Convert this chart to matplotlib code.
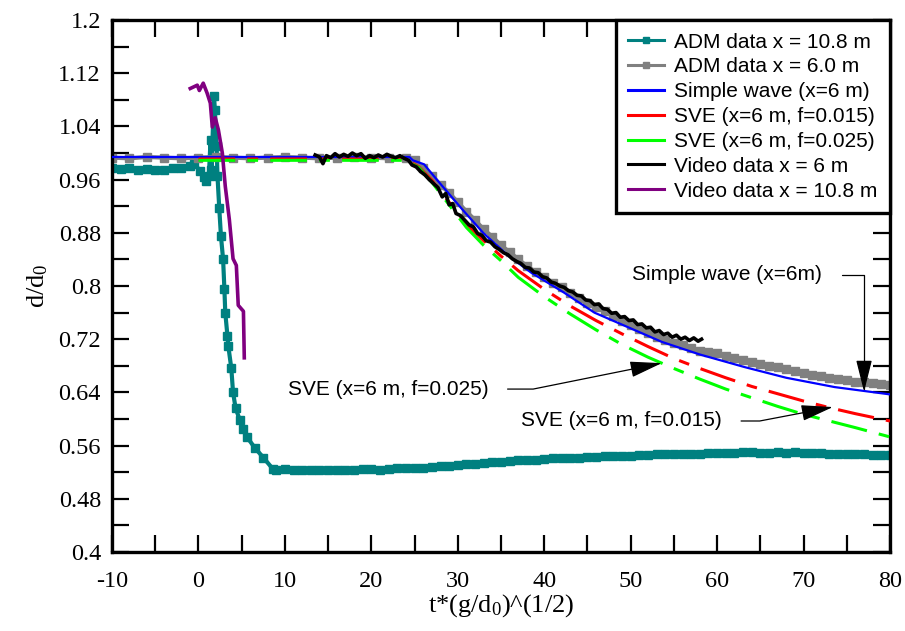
import numpy as np
import matplotlib
matplotlib.use('Agg')
import matplotlib.pyplot as plt
from matplotlib.ticker import MultipleLocator

plt.rcParams['mathtext.fontset'] = 'custom'
plt.rcParams['mathtext.rm'] = 'Liberation Serif'
plt.rcParams['mathtext.it'] = 'Liberation Serif'
plt.rcParams['axes.unicode_minus'] = False

# ---- ADM data x = 10.8 m ----
adm108_x = [-10, -9, -8, -7, -6, -5, -4, -3, -2, -1, -0.5,
            0.2, 0.6, 0.9, 1.2, 1.4, 1.5, 1.8, 1.9, 2.1, 2.2, 2.4, 2.6, 2.85,
            3.0, 3.1, 3.35, 3.45, 3.8, 4.0, 4.3, 4.8, 5.2, 5.6, 6.5, 7.5, 8.6,
            9, 10, 11, 12, 13, 14, 15, 16, 17, 18, 19, 20, 21, 22, 23, 24, 25,
            26, 27, 28, 29, 30, 31, 32, 33, 34, 35, 36, 37, 38, 39, 40, 41, 42,
            43, 44, 45, 46, 47, 48, 49, 50, 51, 52, 53, 54, 55, 56, 57, 58, 59,
            60, 61, 62, 63, 64, 65, 66, 67, 68, 69, 70, 71, 72, 73, 74, 75, 76,
            77, 78, 79, 80]
adm108_y = [0.977, 0.976, 0.978, 0.975, 0.976, 0.974, 0.975, 0.977, 0.978, 0.981, 0.984,
            0.973, 0.964, 0.958, 0.965, 1.020, 0.975, 1.085, 1.065, 1.010, 0.965, 0.918,
            0.875, 0.840, 0.795, 0.760, 0.725, 0.710, 0.676, 0.640, 0.616, 0.598, 0.585,
            0.573, 0.557, 0.542, 0.525,
            0.524, 0.525, 0.524, 0.524, 0.523, 0.523, 0.524, 0.523, 0.524, 0.524, 0.525,
            0.525, 0.524, 0.525, 0.526, 0.526, 0.526, 0.527, 0.528, 0.529, 0.530, 0.531,
            0.532, 0.533, 0.534, 0.535, 0.536, 0.537, 0.538, 0.539, 0.539, 0.540, 0.541,
            0.541, 0.542, 0.542, 0.543, 0.543, 0.544, 0.544, 0.545, 0.545, 0.546, 0.546,
            0.547, 0.547, 0.547, 0.548, 0.548, 0.548, 0.549, 0.549, 0.549, 0.549, 0.550,
            0.550, 0.549, 0.549, 0.550, 0.549, 0.550, 0.549, 0.549, 0.549, 0.548, 0.548,
            0.548, 0.547, 0.547, 0.546, 0.546, 0.546]

# ---- ADM data x = 6.0 m ----
adm60_x = [-10, -8, -6, -4, -2, 0, 2, 4, 6, 8, 10, 12, 14, 16, 18, 20, 22, 24,
           25, 26, 27, 28, 29, 30, 31, 32, 33, 34, 35, 36, 37, 38, 39, 40, 41, 42,
           43, 44, 45, 46, 47, 48, 49, 50, 51, 52, 53, 54, 55, 56, 57, 58, 59, 60,
           61, 62, 63, 64, 65, 66, 67, 68, 69, 70, 71, 72, 73, 74, 75, 76, 77, 78,
           79, 80]
adm60_y = [0.993, 0.992, 0.994, 0.993, 0.992, 0.993, 0.994, 0.993, 0.992, 0.993, 0.994, 0.993,
           0.992, 0.993, 0.994, 0.993, 0.992, 0.992,
           0.990, 0.978, 0.966, 0.952, 0.940, 0.926, 0.912, 0.899, 0.885, 0.874, 0.861, 0.851,
           0.840, 0.830, 0.821, 0.813, 0.805, 0.798, 0.790, 0.782, 0.775, 0.769, 0.762, 0.755,
           0.748, 0.742, 0.736, 0.730, 0.724, 0.719, 0.715, 0.711, 0.707, 0.703, 0.701, 0.699,
           0.695, 0.691, 0.688, 0.685, 0.683, 0.680, 0.678, 0.675, 0.672, 0.669, 0.666, 0.664,
           0.662, 0.660, 0.658, 0.656, 0.655, 0.654, 0.652, 0.651]

# ---- Simple wave (x=6 m) ----
simple_x = [-10, 24.4, 24.8, 26.1, 27.7, 30.6, 33.0, 35.8, 38.5, 42.3, 45.8, 49.7,
            53.6, 58.0, 63.2, 68.0, 73.6, 80]
simple_y = [0.994, 0.994, 0.989, 0.983, 0.958, 0.914, 0.879, 0.846, 0.820, 0.790, 0.760,
            0.738, 0.716, 0.697, 0.678, 0.662, 0.648, 0.637]

# ---- SVE f=0.015 / f=0.025 ----
sve_x = [0, 24, 25.5, 27, 29, 31, 33, 35, 37, 40, 43, 46, 49, 52, 55, 58, 61, 64,
         67, 70, 73, 76, 80]
sve015_y = [0.991, 0.991, 0.979, 0.959, 0.926, 0.893, 0.868, 0.845, 0.823, 0.795, 0.770,
            0.748, 0.728, 0.709, 0.691, 0.676, 0.662, 0.649, 0.638, 0.627, 0.617, 0.608,
            0.597]
sve025_y = [0.989, 0.989, 0.978, 0.956, 0.922, 0.888, 0.861, 0.838, 0.813, 0.784, 0.758,
            0.734, 0.712, 0.693, 0.676, 0.660, 0.645, 0.632, 0.619, 0.607, 0.597, 0.587,
            0.573]

# ---- Video data x = 6 m ----
vid6_x = [13.5, 14.0, 14.4, 14.8, 15.3, 15.8, 16.3, 16.8, 17.3, 17.8, 18.3, 18.8, 19.3,
          19.8, 20.3, 20.8, 21.3, 21.8, 22.3, 22.8, 23.3, 23.8, 24.3, 24.7, 25.2, 25.7,
          26.2, 26.7, 27.2, 27.7, 28.2, 28.6, 29.0, 29.4, 29.8, 30.3, 30.8, 31.3, 31.8,
          32.3, 32.8, 33.3, 33.8, 34.3, 34.8, 35.3, 35.8, 36.3, 36.8, 37.3, 37.8, 38.3,
          38.8, 39.3, 39.8, 40.3, 40.8, 41.3, 41.8, 42.3, 42.8, 43.3, 43.8, 44.3, 44.8,
          45.3, 45.8, 46.3, 46.8, 47.3, 47.8, 48.3, 48.8, 49.3, 49.8, 50.3, 50.8, 51.3,
          51.8, 52.3, 52.8, 53.3, 53.8, 54.3, 54.8, 55.3, 55.8, 56.3, 56.8, 57.3, 57.8,
          58.2]
vid6_y = [0.997, 0.994, 0.984, 0.996, 0.993, 0.999, 0.994, 0.998, 0.995, 1.000, 0.996,
          0.999, 0.992, 0.996, 0.993, 0.997, 0.994, 0.998, 0.995, 0.993, 0.996, 0.992,
          0.989, 0.982, 0.979, 0.972, 0.967, 0.960, 0.954, 0.948, 0.934, 0.939, 0.922,
          0.924, 0.909, 0.906, 0.899, 0.892, 0.889, 0.879, 0.876, 0.868, 0.866, 0.859,
          0.855, 0.850, 0.847, 0.841, 0.837, 0.834, 0.828, 0.827, 0.821, 0.820, 0.814,
          0.812, 0.806, 0.804, 0.800, 0.798, 0.793, 0.791, 0.786, 0.785, 0.779, 0.778,
          0.772, 0.773, 0.766, 0.765, 0.759, 0.760, 0.753, 0.754, 0.748, 0.749, 0.742,
          0.743, 0.737, 0.738, 0.731, 0.733, 0.727, 0.729, 0.723, 0.726, 0.720, 0.723,
          0.718, 0.722, 0.717, 0.720]

# ---- Video data x = 10.8 m ----
vid108_x = [-0.95, -0.14, 0.1, 0.55, 1.0, 1.37, 1.6, 1.94, 2.3, 2.76, 3.1, 3.57, 4.0,
            4.38, 4.6, 5.2, 5.3]
vid108_y = [1.097, 1.102, 1.094, 1.105, 1.090, 1.075, 1.039, 1.053, 1.035, 1.000, 0.950,
            0.900, 0.841, 0.831, 0.771, 0.762, 0.692]

y_ticks = [0.4, 0.48, 0.56, 0.64, 0.72, 0.8, 0.88, 0.96, 1.04, 1.12, 1.2]

fig = plt.figure(figsize=(9.05, 6.31), dpi=100)
ax = fig.add_axes([0.1238, 0.1252, 0.8596, 0.8431])

ax.plot(adm108_x, adm108_y, color='#008080', lw=3, marker='s', ms=5.5,
        label='ADM data x = 10.8 m', zorder=2)
ax.plot(adm60_x, adm60_y, color='#808080', lw=3, marker='s', ms=5.5,
        label='ADM data x = 6.0 m', zorder=2)
ax.plot(simple_x, simple_y, color='#0000FF', lw=1.6, label='Simple wave (x=6 m)', zorder=3)
ax.plot(sve_x, sve015_y, color='#FF0000', lw=2.2, dashes=(12, 4, 3.5, 4),
        label='SVE (x=6 m, f=0.015)', zorder=3)
ax.plot(sve_x, sve025_y, color='#00FF00', lw=2.2, dashes=(12, 4, 3.5, 4),
        label='SVE (x=6 m, f=0.025)', zorder=3)
ax.plot(vid6_x, vid6_y, color='black', lw=2.6, label='Video data x = 6 m', zorder=4)
ax.plot(vid108_x, vid108_y, color='#800080', lw=2.6, label='Video data x = 10.8 m', zorder=4)

ax.set_xlim(-10, 80)
ax.set_ylim(0.4, 1.2)
ax.xaxis.set_major_locator(MultipleLocator(10))
ax.xaxis.set_minor_locator(MultipleLocator(5))
ax.set_yticks(y_ticks)
ax.set_yticklabels(['%g' % v for v in y_ticks])
ax.yaxis.set_minor_locator(MultipleLocator(0.04))
ax.tick_params(which='both', direction='in', length=12, width=1.6,
               top=True, right=True)
ax.tick_params(axis='x', pad=14)
ax.tick_params(axis='y', pad=8)
for lab in ax.get_xticklabels() + ax.get_yticklabels():
    lab.set_fontfamily('Liberation Serif')
    lab.set_fontsize(17.5)
for sp in ax.spines.values():
    sp.set_linewidth(2.4)

ax.set_xlabel('t*(g/d$_0$)^(1/2)', family='Liberation Serif', fontsize=19, labelpad=0)
ax.set_ylabel('d/d$_0$', family='Liberation Serif', fontsize=19, labelpad=6)

leg = ax.legend(loc='upper right', bbox_to_anchor=(1, 1), borderaxespad=0,
                prop={'family': 'Liberation Sans', 'size': 15}, frameon=True,
                fancybox=False, labelspacing=0.28, handlelength=1.7,
                handletextpad=0.5, borderpad=0.6)
leg.get_frame().set_edgecolor('black')
leg.get_frame().set_linewidth(2.4)
leg.get_frame().set_alpha(1)
for h in leg.legend_handles:
    h.set_linewidth(2.2)
    h.set_markersize(4)
for h in leg.legend_handles[3:5]:
    h.set_linestyle('-')

arrow = dict(arrowstyle='-|>,head_length=2.0,head_width=0.5', color='black',
             lw=0.9, mutation_scale=10, shrinkA=12, shrinkB=0)
txt = dict(fontsize=15, family='Liberation Sans', va='center', ha='left')

ax.annotate('Simple wave (x=6m)', xy=(77.0, 0.641), xytext=(50.2, 0.817),
            arrowprops=dict(arrow, connectionstyle='angle,angleA=0,angleB=90,rad=0'),
            **txt)
ax.annotate('SVE (x=6 m, f=0.025)', xy=(53.6, 0.684), xytext=(10.3, 0.645),
            arrowprops=dict(arrow, connectionstyle='angle,angleA=0,angleB=11.4,rad=0'),
            **txt)
ax.annotate('SVE (x=6 m, f=0.015)', xy=(73.4, 0.618), xytext=(37.3, 0.597),
            arrowprops=dict(arrow, connectionstyle='angle,angleA=0,angleB=10.8,rad=0'),
            **txt)

fig.savefig('out.png', dpi=100)
